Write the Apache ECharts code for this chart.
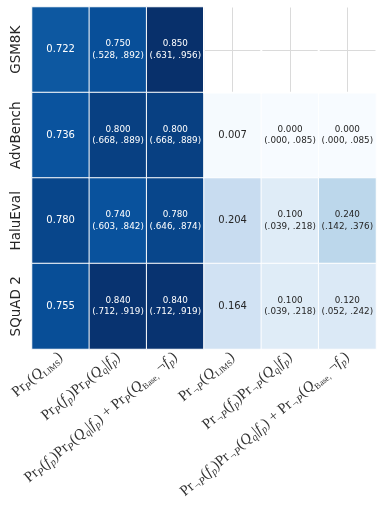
<!DOCTYPE html>
<html>
<head>
<meta charset="utf-8">
<script src="https://cdn.jsdelivr.net/npm/echarts@6/dist/echarts.min.js"></script>
</head>
<body style="margin: 0">
<div id="container" style="width: 384px; height: 510px"></div>
<script>
var rows = ['GSM8K', 'AdvBench', 'HaluEval', 'SQuAD 2'];

// column labels (math written as rich text)
var colLabels = [
    '{n|Pr}{s|P}{n|(}{i|Q}{t|LIMS}{n|)}',
    '{n|Pr}{s|P}{n|(}{i|f}{s|p}{n|)Pr}{s|P}{n|(}{i|Q}{s|q}{n||}{i|f}{s|p}{n|)}',
    '{n|Pr}{s|P}{n|(}{i|f}{s|p}{n|)Pr}{s|P}{n|(}{i|Q}{s|q}{n||}{i|f}{s|p}{n|) + Pr}{s|P}{n|(}{i|Q}{t|Base,}{n| \u00ac}{i|f}{s|p}{n|)}',
    '{n|Pr}{s|\u00acP}{n|(}{i|Q}{t|LIMS}{n|)}',
    '{n|Pr}{s|\u00acP}{n|(}{i|f}{s|p}{n|)Pr}{s|\u00acP}{n|(}{i|Q}{s|q}{n||}{i|f}{s|p}{n|)}',
    '{n|Pr}{s|\u00acP}{n|(}{i|f}{s|p}{n|)Pr}{s|\u00acP}{n|(}{i|Q}{s|q}{n||}{i|f}{s|p}{n|) + Pr}{s|\u00acP}{n|(}{i|Q}{t|Base,}{n| \u00ac}{i|f}{s|p}{n|)}'
];

// values per column (rows in order above), null = no result
var col0 = [0.722, 0.736, 0.780, 0.755];
var col1 = [0.750, 0.800, 0.740, 0.840];
var col1Lo = [0.528, 0.668, 0.603, 0.712];
var col1Hi = [0.892, 0.889, 0.842, 0.919];
var col2 = [0.850, 0.800, 0.780, 0.840];
var col2Lo = [0.631, 0.668, 0.646, 0.712];
var col2Hi = [0.956, 0.889, 0.874, 0.919];
var col3 = [null, 0.007, 0.204, 0.164];
var col4 = [null, 0.000, 0.100, 0.100];
var col4Lo = [null, 0.000, 0.039, 0.039];
var col4Hi = [null, 0.085, 0.218, 0.218];
var col5 = [null, 0.000, 0.240, 0.120];
var col5Lo = [null, 0.000, 0.142, 0.052];
var col5Hi = [null, 0.085, 0.376, 0.242];

var cols = [
    { v: col0 },
    { v: col1, lo: col1Lo, hi: col1Hi },
    { v: col2, lo: col2Lo, hi: col2Hi },
    { v: col3 },
    { v: col4, lo: col4Lo, hi: col4Hi },
    { v: col5, lo: col5Lo, hi: col5Hi }
];

var blues = ['#f7fbff', '#deebf7', '#c6dbef', '#9ecae1', '#6baed6', '#4292c6', '#2171b5', '#08519c', '#08306b'];

function ci(x) {
    return x.toFixed(3).replace(/^0/, '');
}

var data = [];
var empty = [];
cols.forEach(function (c, i) {
    c.v.forEach(function (v, j) {
        if (v === null) {
            empty.push([i, j, 0]);
            return;
        }
        var txt;
        if (c.lo) {
            txt = '{a|' + v.toFixed(3) + '}\n{a|(' + ci(c.lo[j]) + ', ' + ci(c.hi[j]) + ')}';
        } else {
            txt = '{m|' + v.toFixed(3) + '}';
        }
        var col = v > 0.5 ? '#ffffff' : '#262626';
        data.push({
            value: [i, j, v],
            label: {
                formatter: txt,
                rich: {
                    m: { fontSize: 10, color: col, fontFamily: 'DejaVu Sans' },
                    a: { fontSize: 8.8, lineHeight: 11.5, color: col, fontFamily: 'DejaVu Sans' }
                }
            }
        });
    });
});

var serif = 'Liberation Serif';
var ink = '#333333';
var dom = document.getElementById('container');
var myChart = echarts.init(dom);
var option = {
    animation: false,
    grid: { left: 32, right: 8, top: 7, bottom: 161 },
    xAxis: {
        type: 'category',
        data: colLabels,
        axisLine: { show: false },
        axisTick: { show: false },
        axisLabel: {
            interval: 0,
            rotate: 40,
            margin: 6,
            rich: {
                n: { fontFamily: serif, fontSize: 15, lineHeight: 19, color: ink },
                i: { fontFamily: serif, fontStyle: 'italic', fontSize: 15, lineHeight: 19, color: ink },
                s: { fontFamily: serif, fontStyle: 'italic', fontSize: 10.5, lineHeight: 10, verticalAlign: 'bottom', color: ink },
                t: { fontFamily: serif, fontSize: 8.5, lineHeight: 9, verticalAlign: 'bottom', color: ink }
            }
        },
        splitLine: { show: true, alignWithLabel: true, lineStyle: { color: '#dadada', width: 1 } }
    },
    yAxis: {
        type: 'category',
        data: rows,
        inverse: true,
        axisLine: { show: false },
        axisTick: { show: false },
        axisLabel: {
            interval: 0,
            rotate: 90,
            margin: 9,
            fontSize: 13.5,
            color: '#262626',
            fontFamily: 'DejaVu Sans'
        },
        splitLine: { show: true, alignWithLabel: true, lineStyle: { color: '#dadada', width: 1 } }
    },
    visualMap: {
        show: false,
        seriesIndex: 0,
        dimension: 2,
        min: 0,
        max: 0.85,
        inRange: { color: blues }
    },
    series: [
        {
            type: 'heatmap',
            data: data,
            label: { show: true },
            itemStyle: { borderColor: '#ffffff', borderWidth: 1 },
            emphasis: { disabled: true }
        },
        {
            type: 'heatmap',
            data: empty,
            label: { show: false },
            itemStyle: { color: 'rgba(0,0,0,0)', borderColor: '#ffffff', borderWidth: 1.5 },
            emphasis: { disabled: true }
        }
    ]
};
myChart.setOption(option);
</script>
</body>
</html>
